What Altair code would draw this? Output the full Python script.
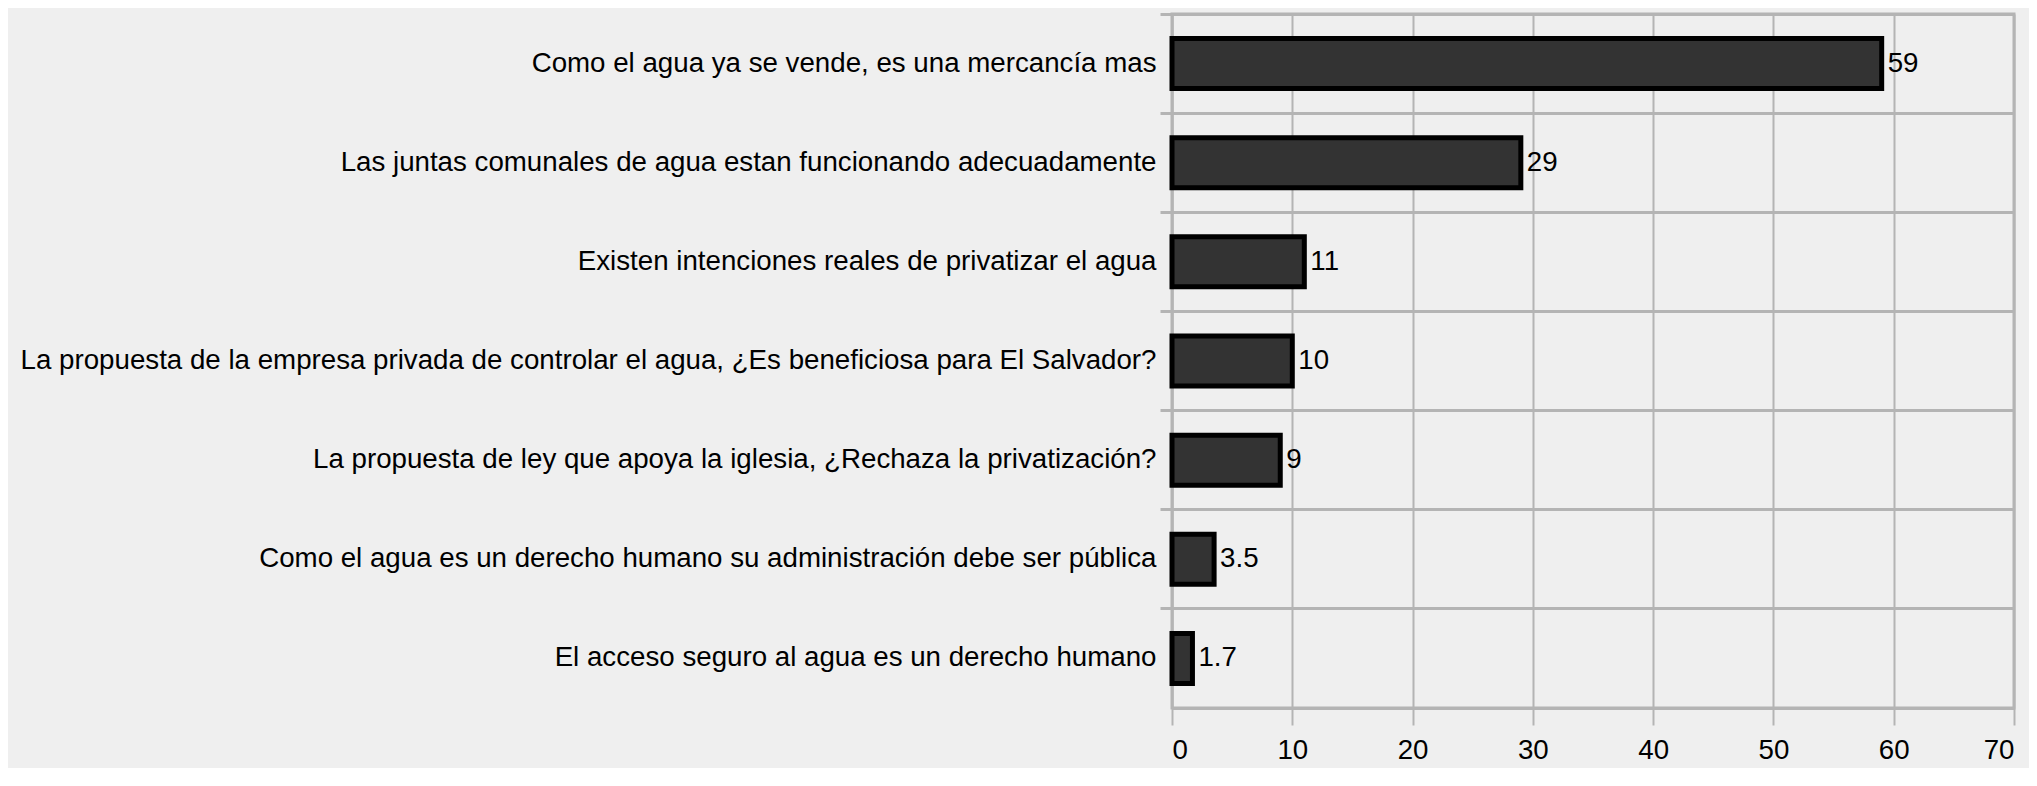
import altair as alt
import pandas as pd

categories = [
    "Como el agua ya se vende, es una mercancía mas",
    "Las juntas comunales de agua estan funcionando adecuadamente",
    "Existen intenciones reales de privatizar el agua",
    "La propuesta de la empresa privada de controlar el agua, ¿Es beneficiosa para El Salvador?",
    "La propuesta de ley que apoya la iglesia, ¿Rechaza la privatización?",
    "Como el agua es un derecho humano su administración debe ser pública",
    "El acceso seguro al agua es un derecho humano",
]
values = [59, 29, 11, 10, 9, 3.5, 1.7]
labels = ["59", "29", "11", "10", "9", "3.5", "1.7"]
x_ticks = [0, 10, 20, 30, 40, 50, 60, 70]

df = pd.DataFrame({"cat": categories, "val": values, "lab": labels})

FONT = "Liberation Sans"
GRID = "#b4b4b4"
FS = 27.7

y_enc = alt.Y(
    "cat:N",
    sort=None,
    title=None,
    scale=alt.Scale(paddingInner=0, paddingOuter=0),
    axis=alt.Axis(
        bandPosition=0,
        grid=True,
        gridColor=GRID,
        gridWidth=3,
        gridOpacity=1,
        domain=True,
        domainColor=GRID,
        domainWidth=2,
        ticks=True,
        tickColor=GRID,
        tickWidth=3,
        tickSize=12,
        labelPadding=4,
        labelLimit=1400,
        labelFont=FONT,
        labelFontSize=FS,
        labelColor="black",
    ),
)

x_enc = alt.X(
    "val:Q",
    title=None,
    scale=alt.Scale(domain=[0, 70], nice=False),
    axis=alt.Axis(
        values=x_ticks,
        grid=True,
        gridColor=GRID,
        gridWidth=2,
        gridOpacity=1,
        domain=True,
        domainColor=GRID,
        domainWidth=3,
        ticks=True,
        tickColor=GRID,
        tickWidth=2,
        tickSize=17,
        labelPadding=11,
        labelFont=FONT,
        labelFontSize=FS,
        labelColor="black",
    ),
)

bars = alt.Chart(df).mark_bar(
    size=50, color="#333333", stroke="black", strokeWidth=5
).encode(x=x_enc, y=y_enc)

text = alt.Chart(df).mark_text(
    align="left", baseline="middle", dx=6, font=FONT, fontSize=FS, color="black"
).encode(x="val:Q", y=alt.Y("cat:N", sort=None), text="lab:N")

chart = (
    alt.layer(bars, text)
    .properties(
        width=842,
        height=694,
        background="#efefef",
        autosize=alt.AutoSizeParams(type="none"),
        padding={"left": 1164, "top": 6, "right": 15, "bottom": 60},
    )
    .configure_view(stroke=GRID, strokeWidth=3)
)

chart.save("out.html", embed_options={"renderer": "svg", "actions": False})
